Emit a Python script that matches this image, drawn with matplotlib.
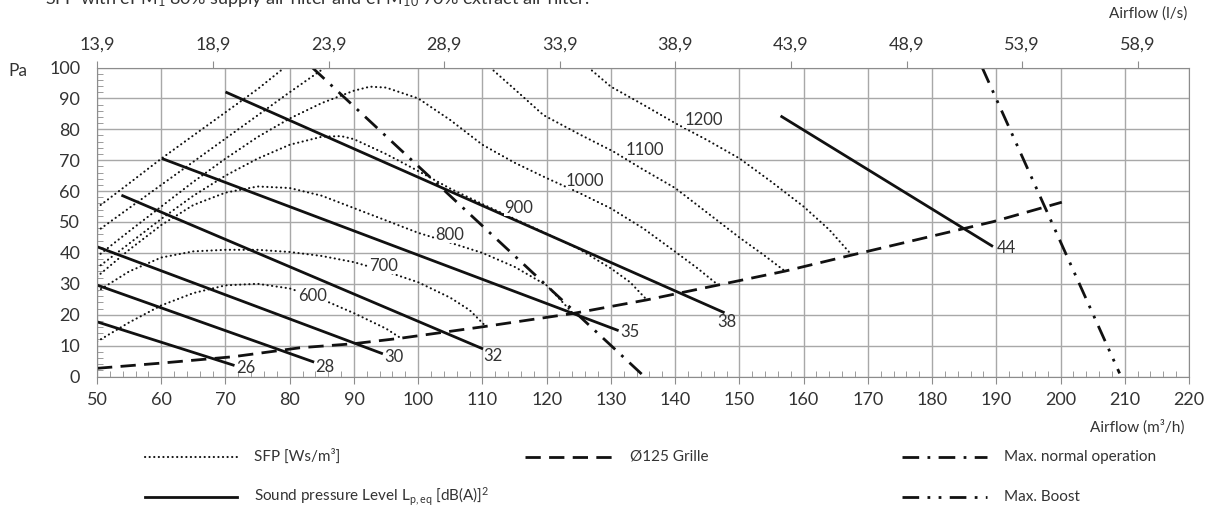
import matplotlib
matplotlib.use("Agg")
import matplotlib.pyplot as plt
from matplotlib.lines import Line2D
from matplotlib.ticker import MultipleLocator

# --- data ---
sound_levels = [26, 28, 30, 32, 35, 38, 44]
sound_x = [[50, 71.2], [50, 83.6], [50, 94.3], [54.0, 109.9], [60.3, 131.0], [70.2, 147.5], [156.6, 189.3]]
sound_y = [[17.7, 3.7], [29.6, 4.8], [42.0, 7.5], [58.5, 9.1], [70.4, 15.0], [91.9, 20.8], [84.1, 42.3]]

sfp_levels = [600, 700, 800, 900, 1000, 1100, 1200]
sfp_x = [
    [50, 55, 60, 65, 70, 75, 80, 85, 90, 95, 97.3],
    [50, 55, 60, 65, 70, 75, 80, 85, 90, 95, 100, 105, 108, 110.5],
    [50, 55, 60, 65, 70, 75, 80, 85, 90, 95, 100, 105, 110, 115, 120, 122.5, 124.1],
    [50, 55, 60, 65, 70, 75, 80, 85, 88, 90, 95, 100, 105, 110, 115, 120, 125, 130, 133, 135.6],
    [50, 55, 60, 65, 70, 75, 80, 85, 90, 92.5, 95, 100, 105, 110, 115, 120, 125, 130, 135, 140, 143.5, 146.7],
    [50, 55, 60, 65, 70, 75, 80, 85.5, None, 111.2, 115, 119.5, 125, 130.4, 135, 140, 145, 150, 154, 157.1],
    [50, 55, 60, 65, 70, 75, 79.2, None, 126.5, 130, 135, 140, 145, 150, 155, 160, 164, 167.5],
]
sfp_y = [
    [11.3, 17.5, 23, 27, 29.5, 30, 28.5, 25, 20.5, 15.5, 12.4],
    [27.5, 34, 38.5, 40.5, 41, 41, 40.3, 39, 37, 34, 30.5, 25.5, 21.5, 16.3],
    [32.3, 41, 49, 55.5, 59.5, 61.5, 61, 58.5, 54.5, 50.5, 46.5, 43.3, 40, 35.5, 29.5, 24, 20.4],
    [35.1, 43, 51, 58.5, 65, 70.5, 75, 77.6, 77.8, 76.8, 72, 66.5, 60.8, 55.8, 51, 46.2, 41.3, 35, 30.5, 24.8],
    [38.8, 47, 55, 63, 70.5, 77.5, 83.5, 88.5, 92.5, 93.8, 93.5, 90, 83, 75, 69.2, 64.2, 59.5, 54.4, 48, 40.4, 35, 29.6],
    [47, 54.5, 62, 69.5, 77, 84.5, 92, 100, None, 100, 93, 84.6, 78.5, 72.8, 67, 61, 53, 45, 39, 34.1],
    [54.6, 62.5, 70.5, 78, 85.5, 93, 100, None, 100, 93.8, 88, 82, 76.5, 70.6, 63, 55, 47.5, 39.3],
]

grille_x = [50, 59.8, 71.2, 81.6, 89.9, 97.3, 110.1, 124.1, 135.6, 146.7, 157.1, 167.5, 189.5, 200.2]
grille_y = [2.65, 4.3, 6.4, 9.3, 10.6, 12.4, 16.1, 20.4, 24.8, 29.6, 34.1, 39.3, 50.1, 56.4]

normal_x = [83.5, 135.2]
normal_y = [100, 0]

boost_x = [187.8, 209.2]
boost_y = [100, 1]

ls_ticks = [13.9, 18.9, 23.9, 28.9, 33.9, 38.9, 43.9, 48.9, 53.9, 58.9]

# --- styles ---
plt.rcParams["font.family"] = ["Lato", "DejaVu Sans"]
plt.rcParams["mathtext.default"] = "regular"
TXT = "#333333"
GRID = "#a8a8a8"
INK = "#111111"

sfp_style = dict(color=INK, lw=1.5, linestyle=(0, (0.1, 2.1)), dash_capstyle="round")
sound_style = dict(color=INK, lw=2.0, linestyle="-")
grille_style = dict(color=INK, lw=2.0, linestyle=(0, (5.5, 3)))
normal_style = dict(color=INK, lw=2.0, linestyle=(0, (6, 3, 1, 3)))
boost_style = dict(color=INK, lw=2.0, linestyle=(0, (6, 3, 1, 3, 1, 3)))

W, H = 1213, 509
fig = plt.figure(figsize=(W / 100, H / 100), dpi=100)
ax = fig.add_axes([97 / W, 1 - 376.5 / H, 1092 / W, 309 / H])

ax.set_xlim(50, 220)
ax.set_ylim(0, 100)
ax.set_xticks(range(50, 221, 10))
ax.set_yticks(range(0, 101, 10))
ax.xaxis.set_minor_locator(MultipleLocator(2))
ax.yaxis.set_minor_locator(MultipleLocator(2))
ax.grid(True, which="major", color=GRID, lw=1)
ax.set_axisbelow(True)
for sp in ax.spines.values():
    sp.set_color("#8c8c8c")
ax.tick_params(which="major", axis="x", direction="out", length=5, pad=6,
               color="#8c8c8c", labelsize=13, labelcolor=TXT, top=False)
ax.tick_params(which="major", axis="y", length=0, pad=12, labelsize=13, labelcolor=TXT)
ax.tick_params(which="minor", direction="in", length=4, color="#8c8c8c", top=True, left=True)

# top axis in l/s
ax2 = ax.twiny()
ax2.set_xlim(50 / 3.6, 220 / 3.6)
ax2.set_xticks(ls_ticks)
ax2.set_xticklabels([f"{v:.1f}".replace(".", ",") for v in ls_ticks])
ax2.tick_params(direction="out", length=5, pad=6, color="#8c8c8c", labelsize=13, labelcolor=TXT)
for sp in ax2.spines.values():
    sp.set_visible(False)

# SFP curves
for lvl, xs, ys in zip(sfp_levels, sfp_x, sfp_y):
    xs = [float("nan") if v is None else v for v in xs]
    ys = [float("nan") if v is None else v for v in ys]
    ax.plot(xs, ys, **sfp_style)

sfp_label_xy = [(83.5, 26.2), (94.6, 35.9), (104.9, 45.8), (115.7, 54.6),
                (126.0, 63.3), (135.3, 73.3), (144.4, 83.0)]
for lvl, (lx, ly) in zip(sfp_levels, sfp_label_xy):
    ax.text(lx, ly, str(lvl), fontsize=12, color=TXT, ha="center", va="center",
            bbox=dict(facecolor="white", edgecolor="none", pad=0.3))

# sound pressure lines
sound_offsets = [(3, -3), (2, -5), (3, -4), (2, -8), (3, -2), (-6, -10), (5, -2)]
for lvl, xs, ys, off in zip(sound_levels, sound_x, sound_y, sound_offsets):
    ax.plot(xs, ys, **sound_style)
    ax.annotate(str(lvl), (xs[-1], ys[-1]), xytext=off, textcoords="offset pixels",
                fontsize=12, color=TXT, ha="left", va="center")

ax.plot(grille_x, grille_y, **grille_style)
ax.plot(normal_x, normal_y, **normal_style)
ax.plot(boost_x, boost_y, **boost_style)

# axis captions
fig.text(18 / W, 1 - 70.5 / H, "Pa", fontsize=12.5, color=TXT, ha="center", va="center")
fig.text(1187 / W, 1 - 13.5 / H, "Airflow (l/s)", fontsize=11, color=TXT, ha="right", va="center")
fig.text(1185 / W, 1 - 426.7 / H, "Airflow (m³/h)", fontsize=11, color=TXT, ha="right", va="center")
fig.text(45 / W, 1 - 4 / H,
         "SFP with ePM$_1$ 80% supply air filter and ePM$_{10}$ 70% extract air filter.",
         fontsize=13, color=TXT, ha="left", va="baseline")

# legend, drawn by hand to keep the three-column layout
def legend_entry(x0, x1, y, label, style):
    fy = 1 - y / H
    fig.add_artist(Line2D([x0 / W, x1 / W], [fy, fy], transform=fig.transFigure, **style))
    fig.text((x1 + 17) / W, fy, label, fontsize=11, color=TXT, ha="left", va="center")

legend_entry(145, 237, 456.7, "SFP [Ws/m³]", sfp_style)
legend_entry(145, 237, 497, "Sound pressure Level L$_{p,eq}$ [dB(A)]$^2$", sound_style)
legend_entry(525, 613, 456.7, "Ø125 Grille", grille_style)
legend_entry(902, 987, 456.7, "Max. normal operation", normal_style)
legend_entry(902, 987, 497, "Max. Boost", boost_style)

fig.savefig("out.png", dpi=100)
